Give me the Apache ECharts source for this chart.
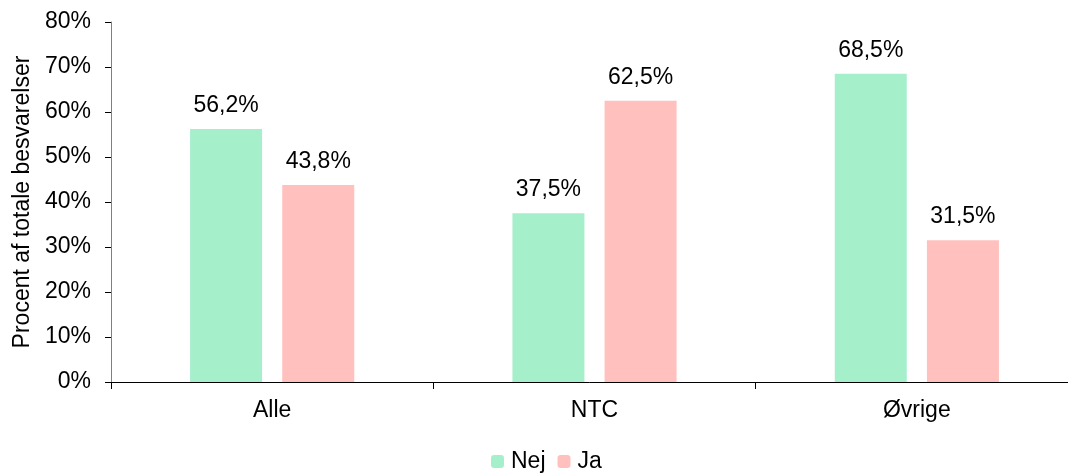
<!DOCTYPE html>
<html><head><meta charset="utf-8">
<script src="https://cdn.jsdelivr.net/npm/echarts@6/dist/echarts.min.js"></script>
<style>html,body{margin:0;padding:0;background:#fff}#c{width:1068px;height:474px}</style>
</head><body><div id="c"></div>
<script>
const categories = ['Alle', 'NTC', 'Øvrige'];
const nej = [56.2, 37.5, 68.5];
const ja = [43.8, 62.5, 31.5];
const yTicks = [0, 10, 20, 30, 40, 50, 60, 70, 80];
const seriesNames = ['Nej', 'Ja'];

const font = 'Liberation Sans, Arial, sans-serif';
const fs = 23;
const fmt = v => v.toFixed(1).replace('.', ',') + '%';
const chart = echarts.init(document.getElementById('c'));
chart.setOption({
  animation: false,
  grid: { left: 111, width: 967, top: 22, height: 360, outerBoundsMode: 'none', containLabel: false },
  legend: {
    top: 450, left: 491, itemWidth: 13, itemHeight: 13, itemGap: 12, padding: 0,
    textStyle: { fontFamily: font, fontSize: fs, color: '#000', padding: [0, 0, 0, 2] },
    data: seriesNames
  },
  xAxis: {
    type: 'category', data: categories,
    axisLine: { lineStyle: { color: '#000', width: 1 } },
    axisTick: { show: true, alignWithLabel: false, length: 7, lineStyle: { color: '#000' } },
    axisLabel: { fontFamily: font, fontSize: fs, color: '#000', margin: 17 }
  },
  yAxis: {
    type: 'value', min: yTicks[0], max: yTicks[yTicks.length - 1], interval: 10,
    name: 'Procent af totale besvarelser', nameLocation: 'middle', nameGap: 77,
    nameTextStyle: { fontFamily: font, fontSize: fs, color: '#000' },
    axisLine: { show: true, lineStyle: { color: '#808080' } },
    axisTick: { show: true, length: 6, lineStyle: { color: '#000' } },
    splitLine: { show: false },
    axisLabel: { fontFamily: font, fontSize: fs, color: '#000', margin: 20, formatter: v => v + '%' }
  },
  series: [
    { name: seriesNames[0], type: 'bar', data: nej, barWidth: 72, barGap: '28%',
      itemStyle: { color: '#A6EFCB' },
      label: { show: true, position: 'top', distance: 12, fontFamily: font, fontSize: fs, color: '#000', formatter: p => fmt(p.value) } },
    { name: seriesNames[1], type: 'bar', data: ja, barWidth: 72,
      itemStyle: { color: '#FFC0BE' },
      label: { show: true, position: 'top', distance: 12, fontFamily: font, fontSize: fs, color: '#000', formatter: p => fmt(p.value) } }
  ]
});
</script></body></html>
